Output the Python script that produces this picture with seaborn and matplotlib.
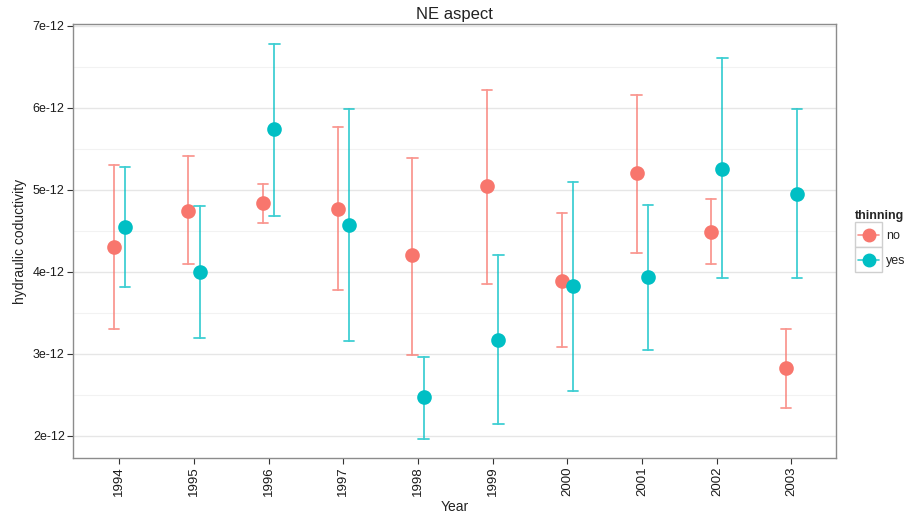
import numpy as np
import pandas as pd
import seaborn as sns
import matplotlib
matplotlib.use("Agg")
import matplotlib.pyplot as plt
from matplotlib.lines import Line2D
from matplotlib.patches import Rectangle
from matplotlib.legend_handler import HandlerBase
from matplotlib.ticker import FuncFormatter, FixedLocator

years = ["1994", "1995", "1996", "1997", "1998", "1999", "2000", "2001", "2002", "2003"]
thinning_levels = ["no", "yes"]

no_mean = [4.30, 4.74, 4.84, 4.77, 4.20, 5.05, 3.89, 5.20, 4.49, 2.83]
no_low = [3.30, 4.10, 4.60, 3.78, 2.99, 3.85, 3.09, 4.23, 4.09, 2.34]
no_high = [5.30, 5.41, 5.07, 5.77, 5.39, 6.22, 4.72, 6.15, 4.89, 3.30]

yes_mean = [4.55, 4.00, 5.74, 4.57, 2.47, 3.17, 3.83, 3.94, 5.26, 4.95]
yes_low = [3.82, 3.19, 4.68, 3.16, 1.96, 2.15, 2.55, 3.05, 3.92, 3.92]
yes_high = [5.28, 4.80, 6.78, 5.98, 2.96, 4.20, 5.10, 4.82, 6.61, 5.99]

y_ticks = [2, 3, 4, 5, 6, 7]

scale = 1e-12
colors = {"no": "#F8766D", "yes": "#00BFC4"}

rows = []
for lvl, m, lo, hi in [("no", no_mean, no_low, no_high), ("yes", yes_mean, yes_low, yes_high)]:
    for y, a, b, c in zip(years, m, lo, hi):
        for v in (b, a, c):
            rows.append({"Year": y, "thinning": lvl, "value": v * scale})
df = pd.DataFrame(rows)

sns.set_theme(style="white")
plt.rcParams["font.family"] = ["Liberation Sans", "DejaVu Sans"]

fig = plt.figure(figsize=(9.13, 5.13), dpi=100)
ax = fig.add_axes([0.080, 0.107, 0.836, 0.846])

ax.yaxis.set_minor_locator(FixedLocator([(t + 0.5) * scale for t in y_ticks[:-1]]))
ax.grid(True, which="major", color="#e6e6e6", lw=1.0)
ax.grid(True, which="minor", axis="y", color="#f2f2f2", lw=0.8)
ax.set_axisbelow(True)

sns.pointplot(data=df, x="Year", y="value", hue="thinning", order=years,
              hue_order=thinning_levels, palette=colors,
              estimator="median", errorbar=("pi", 100), dodge=0.15,
              linestyle="none", markers="o", markersize=8.5, capsize=0.14,
              err_kws={"linewidth": 1.3, "alpha": 0.75}, ax=ax, legend=False)

ax.set_ylim(1.73e-12, 7.02e-12)
ax.set_xlim(-0.62, 9.6)
ax.yaxis.set_major_locator(FixedLocator([t * scale for t in y_ticks]))
ax.yaxis.set_major_formatter(FuncFormatter(lambda v, p: f"{v/scale:.0f}e-12"))
ax.yaxis.get_offset_text().set_visible(False)

for s in ax.spines.values():
    s.set_color("#8c8c8c")
    s.set_linewidth(1.0)

ax.tick_params(axis="both", which="major", length=4, width=0.8, color="#333333",
               labelsize=9, labelcolor="#1a1a1a", direction="out", bottom=True, left=True, pad=2)
ax.tick_params(axis="x", which="major", labelsize=9.5)
ax.tick_params(axis="y", which="minor", length=0)
plt.setp(ax.get_xticklabels(), rotation=90)

ax.set_xlabel("Year", fontsize=10, color="#222222", labelpad=3)
ax.set_ylabel("hydraulic coductivity", fontsize=10, color="#222222", labelpad=4)
ax.set_title("NE aspect", fontsize=12, color="#222222", pad=4)


class BoxedKey(HandlerBase):
    def create_artists(self, legend, orig_handle, xdescent, ydescent, width, height, fontsize, trans):
        c = orig_handle.get_color()
        x0, y0 = -xdescent, -ydescent
        cy = y0 + height / 2
        rect = Rectangle((x0, y0), width, height, facecolor="white", edgecolor="#cfcfcf",
                         lw=1.0, transform=trans)
        line = Line2D([x0 + 2, x0 + width - 2], [cy, cy], color=c, lw=1.2, alpha=0.8, transform=trans)
        mk = Line2D([x0 + width / 2], [cy], marker="o", markersize=9, color=c, lw=0, transform=trans)
        return [rect, line, mk]


handles = [Line2D([], [], color=colors[l]) for l in thinning_levels]
leg = fig.legend(handles, thinning_levels, title="thinning", loc="upper left",
                 bbox_to_anchor=(0.927, 0.607), frameon=False, fontsize=9,
                 title_fontsize=9, handlelength=2.15, handleheight=2.7,
                 labelspacing=0.0, borderpad=0.2, handletextpad=0.35,
                 handler_map={Line2D: BoxedKey()})
leg.get_title().set_fontweight("bold")
leg._legend_box.align = "left"

fig.savefig("out.png", dpi=100)
